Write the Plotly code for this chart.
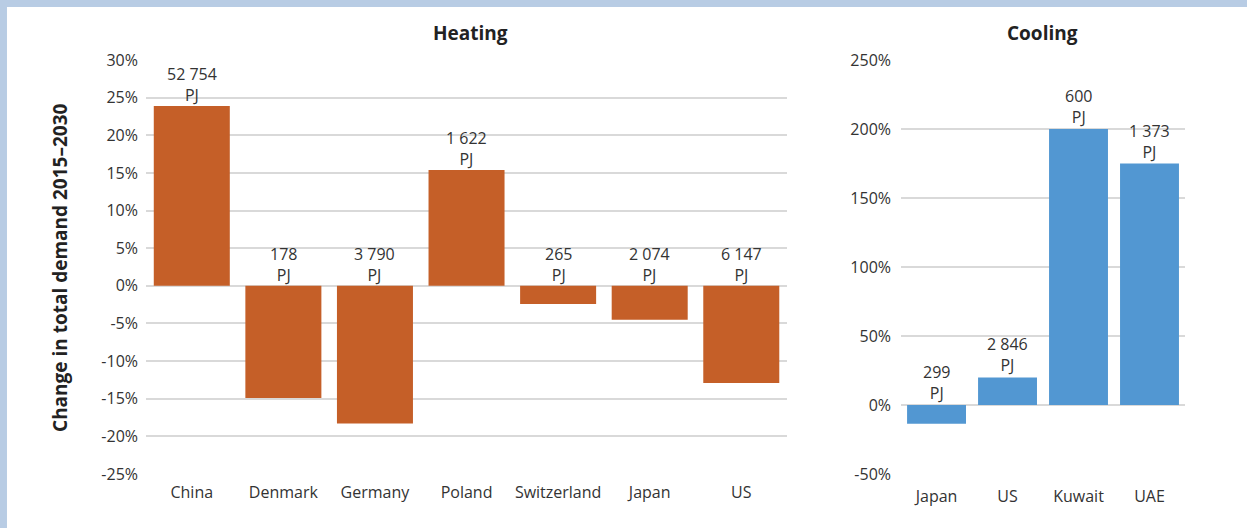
import plotly.graph_objects as go

heat_countries = ["China", "Denmark", "Germany", "Poland", "Switzerland", "Japan", "US"]
heat_change = [23.9, -14.9, -18.3, 15.4, -2.4, -4.5, -12.9]
heat_pj = ["52 754", "178", "3 790", "1 622", "265", "2 074", "6 147"]

cool_countries = ["Japan", "US", "Kuwait", "UAE"]
cool_change = [-13.5, 20.0, 200.0, 175.0]
cool_pj = ["299", "2 846", "600", "1 373"]

heat_ticks = [30, 25, 20, 15, 10, 5, 0, -5, -10, -15, -20, -25]
heat_ticktext = ["30%", "25%", "20%", "15%", "10%", "5%", "0%", "-5%", "-10%", "-15%", "-20%", "-25%"]
cool_ticks = [250, 200, 150, 100, 50, 0, -50]
cool_ticktext = ["250%", "200%", "150%", "100%", "50%", "0%", "-50%"]

FONT = "Open Sans"
TXT = "#333333"
GRID = "#d9d9d9"

fig = go.Figure()
fig.add_trace(go.Bar(x=heat_countries, y=heat_change, marker_color="#c55f28",
                     marker_line_width=0, xaxis="x", yaxis="y", showlegend=False))
fig.add_trace(go.Bar(x=cool_countries, y=cool_change, marker_color="#5297d2",
                     marker_line_width=0, xaxis="x2", yaxis="y2", showlegend=False))

annotations = []
for c, v, t in zip(heat_countries, heat_change, heat_pj):
    annotations.append(dict(x=c, y=max(v, 0), xref="x", yref="y", text=f"{t}<br>PJ",
                            showarrow=False, yanchor="bottom", xanchor="center", yshift=-2,
                            font=dict(family=FONT, size=16, color=TXT)))
for c, v, t in zip(cool_countries, cool_change, cool_pj):
    annotations.append(dict(x=c, y=max(v, 0), xref="x2", yref="y2", text=f"{t}<br>PJ",
                            showarrow=False, yanchor="bottom", xanchor="center", yshift=-1,
                            font=dict(family=FONT, size=16, color=TXT)))

annotations.append(dict(x=0.312, y=1.0, xref="paper", yref="paper", yshift=12,
                        text="<b>Heating</b>", showarrow=False, yanchor="bottom", xanchor="center",
                        font=dict(family=FONT, size=19, color="#222222")))
annotations.append(dict(x=0.8633, y=1.0, xref="paper", yref="paper", yshift=12,
                        text="<b>Cooling</b>", showarrow=False, yanchor="bottom", xanchor="center",
                        font=dict(family=FONT, size=19, color="#222222")))
annotations.append(dict(x=-0.0828, y=0.5, xref="paper", yref="paper",
                        text="<b>Change in total demand 2015–2030</b>", textangle=-90,
                        showarrow=False, xanchor="center", yanchor="middle",
                        font=dict(family=FONT, size=19, color="#222222")))

shapes = [
    dict(type="rect", xref="paper", yref="paper", x0=-0.15, x1=1.07, y0=1.128, y1=1.16,
         fillcolor="#b8cce4", line_width=0, layer="above"),
    dict(type="rect", xref="paper", yref="paper", x0=-0.15, x1=-0.1338, y0=-0.2, y1=1.16,
         fillcolor="#b8cce4", line_width=0, layer="above"),
]

axis_common = dict(showline=False, ticks="", tickfont=dict(family=FONT, size=16, color=TXT))

fig.update_layout(
    width=1247, height=528,
    margin=dict(l=146, r=62, t=60, b=54),
    paper_bgcolor="white", plot_bgcolor="white",
    bargap=0.17,
    xaxis=dict(domain=[0, 0.617], **axis_common, showgrid=False, ticklabelstandoff=7),
    yaxis=dict(range=[-25, 30], tickvals=heat_ticks, ticktext=heat_ticktext,
               showgrid=True, gridcolor=GRID, gridwidth=1.5, zeroline=True,
               zerolinecolor=GRID, zerolinewidth=1.5, ticklabelstandoff=7, **axis_common),
    xaxis2=dict(domain=[0.7267, 1], anchor="y2", **axis_common, showgrid=False, ticklabelstandoff=11),
    yaxis2=dict(range=[-50, 250], tickvals=cool_ticks, ticktext=cool_ticktext, anchor="x2",
                showgrid=True, gridcolor=GRID, gridwidth=1.5, zeroline=True,
                zerolinecolor=GRID, zerolinewidth=1.5, ticklabelstandoff=9, **axis_common),
    annotations=annotations,
    shapes=shapes,
)

fig.write_html("out.html", config={"displayModeBar": False},
               post_script="document.body.style.margin='0';document.body.style.overflow='hidden';")
